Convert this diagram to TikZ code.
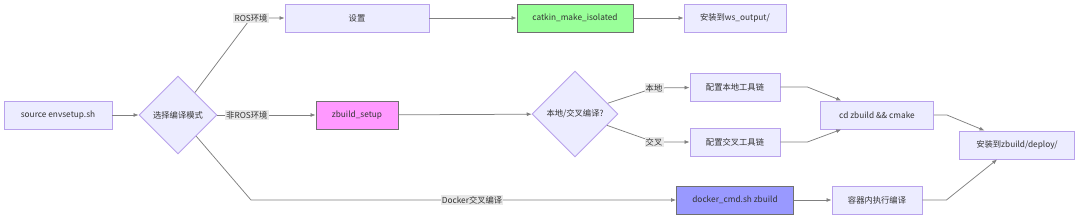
\documentclass[tikz,border=0pt]{standalone}
\usepackage{fontspec}
\setmainfont{Noto Sans CJK SC}
\usetikzlibrary{arrows.meta,shapes.geometric}
\definecolor{CB}{HTML}{ECECFF}
\definecolor{CP}{HTML}{B9A2EC}
\definecolor{CT}{HTML}{333333}
\definecolor{CL}{HTML}{808080}
\definecolor{CE}{HTML}{E8E8E8}
\definecolor{CG}{HTML}{99FF99}
\definecolor{CM}{HTML}{FF99FF}
\definecolor{CV}{HTML}{9999FF}
\definecolor{CD}{HTML}{707070}
\newcommand{\lblfont}{\fontsize{8.3}{10}\selectfont}
\tikzset{
	bx/.style = {draw=CP, fill=CB, line width=0.9pt, text=CT, font=\lblfont,
		inner sep=0pt, minimum height=28pt, minimum width=#1},
	dm/.style = {diamond, draw=CP, fill=CB, line width=0.9pt, text=CT, font=\lblfont,
		inner sep=0pt, minimum width=#1, minimum height=#1},
	el/.style = {fill=CE, inner sep=1.2pt, text=CT, font=\lblfont},
	ar/.style = {-{Latex[length=5pt,width=4pt]}, draw=CL, line width=0.75pt},
}

\begin{document}
\begin{tikzpicture}[x=1pt, y=-1pt]
	\useasboundingbox (0,0) rectangle (1080,218);
	
	%%═══════════════════════════════════════════════════════════════════
	%% NODES   (pixel grid, y down)
	%%   row 1 : y = 18    ROS path
	%%   row 2 : y = 115   zbuild path
	%%   row 3 : y = 200   docker path
	%%═══════════════════════════════════════════════════════════════════
	\node[bx=108pt] (src)  at (58,115)  {source envsetup.sh};
	\node[dm=78pt]  (mode) at (178,115) {选择编译模式};
	
	%% ROS ─────────────────────────────────────────────────────────────
	\node[bx=144pt] (set)    at (357,18) {设置};
	\node[bx=116pt, fill=CG, draw=CD] (catkin) at (575,18) {catkin\_make\_isolated};
	\node[bx=102pt] (wsout)  at (735,18) {安装到ws\_output/};
	
	%% non-ROS ─────────────────────────────────────────────────────────
	\node[bx=82pt, fill=CM, draw=CD] (zb) at (357,115) {zbuild\_setup};
	\node[dm=86pt]  (cross) at (575,114) {本地/交叉编译?};
	\node[bx=90pt]  (loc)   at (735,87)  {配置本地工具链};
	\node[bx=90pt]  (xtc)   at (735,142) {配置交叉工具链};
	\node[bx=113pt] (cmk)   at (877,115) {cd zbuild \&\& cmake};
	\node[bx=115pt] (dep)   at (1017,145){安装到zbuild/deploy/};
	
	%% Docker ──────────────────────────────────────────────────────────
	\node[bx=117pt, fill=CV, draw=CD] (dock) at (735,200) {docker\_cmd.sh zbuild};
	\node[bx=90pt]  (inc)  at (877,200) {容器内执行编译};
	
	%%═══════════════════════════════════════════════════════════════════
	%% EDGES
	%%═══════════════════════════════════════════════════════════════════
	\coordinate (kros)  at (251,18);
	\coordinate (kdock) at (251,200);
	\coordinate (kloc)  at (654,88);
	\coordinate (kxtc)  at (654,142);
	
	\draw[ar] (src) -- (mode);
	
	%% mode → three paths
	\draw[ar] (mode) -- (kros) -- (set);
	\node[el] (lros) at (kros) {ROS环境};
	\draw[ar] (mode) -- node[el, pos=0.3]{非ROS环境} (zb);
	\draw[ar] (mode) -- (kdock) -- node[el, pos=0.52]{Docker交叉编译} (dock);
	
	%% ROS chain
	\draw[ar] (set) -- (catkin);
	\draw[ar] (catkin) -- (wsout);
	
	%% zbuild chain
	\draw[ar] (zb) -- (cross);
	\draw[ar] (cross) -- (kloc) -- (loc);
	\node[el] (lloc) at (kloc) {本地};
	\draw[ar] (cross) -- (kxtc) -- (xtc);
	\node[el] (lxtc) at (kxtc) {交叉};
	\draw[ar] (loc.east) -- ++(27,0) -- (cmk.158);
	\draw[ar] (xtc.east) -- ++(27,0) -- (cmk.202);
	\draw[ar] (cmk.east) -- ++(13,0) -- (dep.156);
	
	%% docker chain
	\draw[ar] (dock) -- (inc);
	\draw[ar] (inc.east) -- ++(24,0) -- (dep.216);
	
\end{tikzpicture}
\end{document}
